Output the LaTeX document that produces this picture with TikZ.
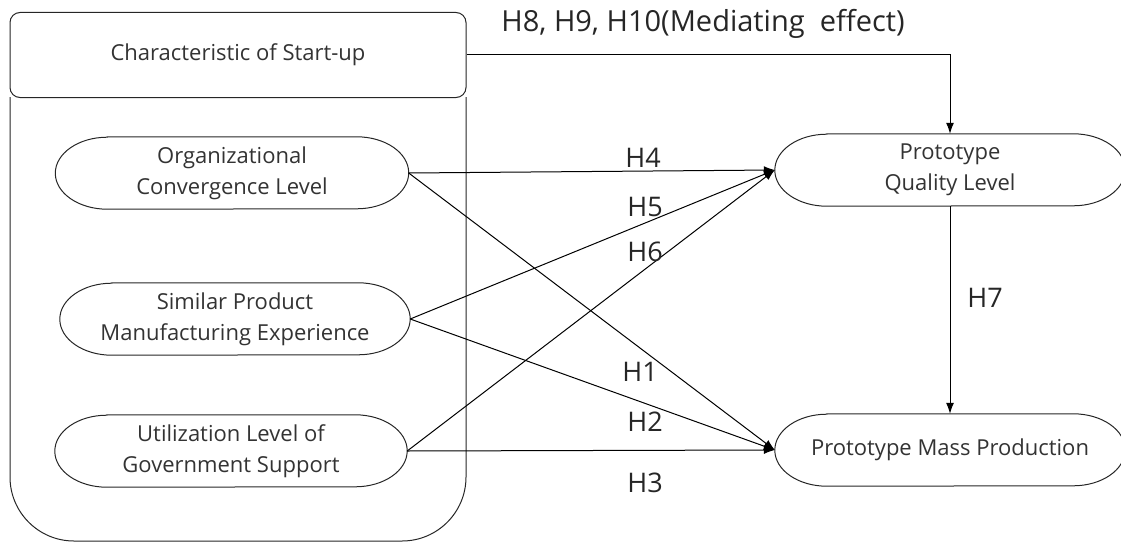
\documentclass[tikz,border=0pt]{standalone}
\usepackage{fontspec}
\setmainfont{Open Sans}
\usepackage{xcolor}
\usepackage{tikz}
\usetikzlibrary{arrows.meta}
\definecolor{txtgray}{HTML}{333333}
\definecolor{hgray}{HTML}{262626}
\tikzset{
    % Boxes
    group/.style={draw=black!85, line width=1pt},
    header/.style={group, fill=white, rounded corners=10pt, minimum width=456pt, minimum height=85pt,
        font=\fontsize{22}{31}\selectfont, text=txtgray},
    factor/.style={align=center, minimum height=72pt, font=\fontsize{22}{31}\selectfont, text=txtgray},
    outline/.style={draw=black!85, line width=1pt},
    % Paths and labels
    path/.style={-{Latex[length=11pt,width=8pt]}, line width=1pt, black},
    hyp/.style={font=\fontsize{27}{30}\selectfont, text=hgray}
}

\begin{document}
\begin{tikzpicture}[x=1pt, y=-1pt]
\useasboundingbox (0,0) rectangle (1121,543);

% Characteristic of start-up (container)
\draw[group, rounded corners=64pt] (10,97) -- (10,541) -- (466,541) -- (466,97);
\node[header] (hdr) at (238,55) {Characteristic of Start-up};

% Independent variables
\node[factor, minimum width=353pt] (org) at (232,173) {Organizational\\Convergence Level};
\node[factor, minimum width=350pt] (sim) at (235,319) {Similar Product\\Manufacturing Experience};
\node[factor, minimum width=352pt] (util) at (231,451) {Utilization Level of\\Government Support};

% Dependent variables
\node[factor, minimum width=350pt] (qual) at (950,170) {Prototype\\Quality Level};
\node[factor, minimum width=350pt] (mass) at (950,450) {Prototype Mass Production};

% Stadium outlines with elliptical ends
\foreach \n in {org,sim,util,qual,mass} {
    \draw[outline] ([xshift=52pt]\n.north west) -- ([xshift=-52pt]\n.north east)
        arc[start angle=90, end angle=-90, x radius=52pt, y radius=36pt]
        -- ([xshift=52pt]\n.south west)
        arc[start angle=270, end angle=90, x radius=52pt, y radius=36pt] -- cycle;
}

% Paths
\draw[path] (org.east) -- (qual.west);
\draw[path] (org.east) -- (mass.west);
\draw[path] (sim.east) -- (qual.west);
\draw[path] (sim.east) -- (mass.west);
\draw[path] (util.east) -- (qual.west);
\draw[path] (util.east) -- (mass.west);
\draw[path] (qual.south) -- (mass.north);
\draw[path] (hdr.east) -| (qual.north);

% Hypotheses
\node[hyp] (lH4) at (643,158) {H4};
\node[hyp] (lH5) at (645,207) {H5};
\node[hyp] (lH6) at (645,252) {H6};
\node[hyp] (lH1) at (640,372) {H1};
\node[hyp] (lH2) at (645,422) {H2};
\node[hyp] (lH3) at (645,483) {H3};
\node[hyp] (lH7) at (985,298) {H7};
\node[hyp, font=\fontsize{29}{32}\selectfont] (lmed) at (703,24) {H8, H9, H10(Mediating\ \ effect)};
\end{tikzpicture}
\end{document}
